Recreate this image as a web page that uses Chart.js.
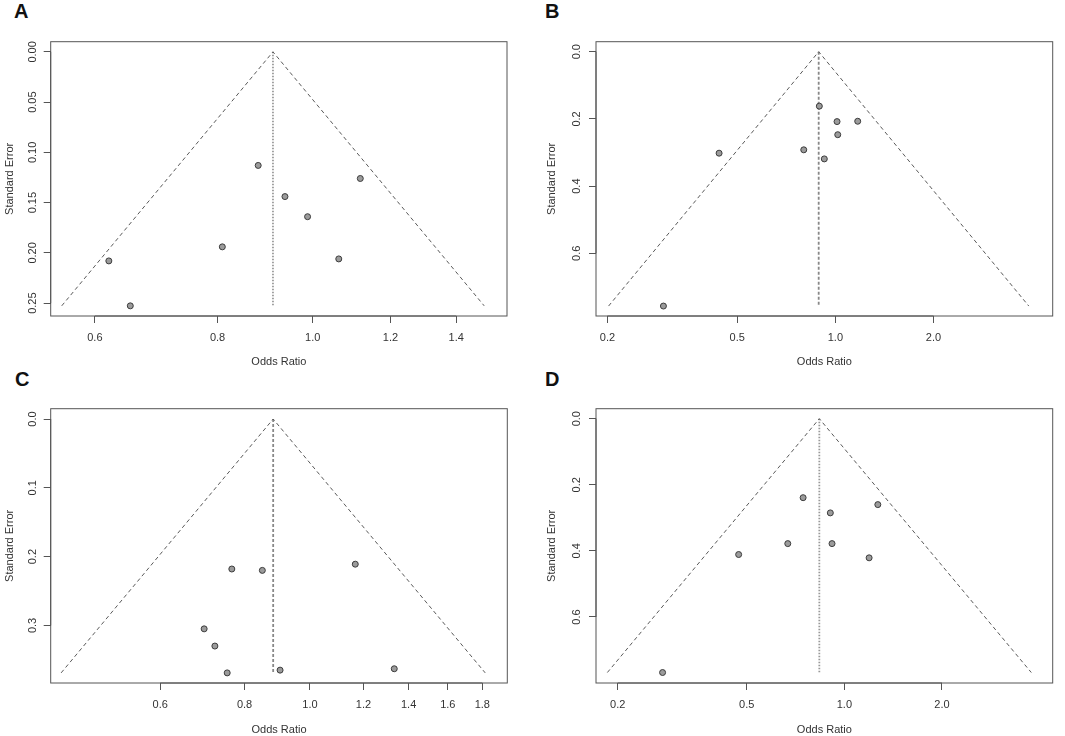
<!DOCTYPE html>
<html>
<head>
<meta charset="utf-8">
<script src="https://cdn.jsdelivr.net/npm/chart.js@4.4.1/dist/chart.umd.min.js"></script>
<style>
  body { margin: 0; background: #fff; }
  #wrap { position: relative; width: 1065px; height: 736px; font-family: "Liberation Sans", Arial, sans-serif; }
  canvas { position: absolute; }
  .tag { position: absolute; font-weight: bold; font-size: 20px; color: #111; line-height: 1; }
</style>
</head>
<body>
<div id="wrap">
  <div class="tag" style="left:14px;top:1px">A</div>
  <div class="tag" style="left:545px;top:1px">B</div>
  <div class="tag" style="left:15px;top:369px">C</div>
  <div class="tag" style="left:545px;top:369px">D</div>
  <canvas id="cA" width="532" height="368" style="left:0;top:0"></canvas>
  <canvas id="cB" width="533" height="368" style="left:532px;top:0"></canvas>
  <canvas id="cC" width="532" height="368" style="left:0;top:368px"></canvas>
  <canvas id="cD" width="533" height="368" style="left:532px;top:368px"></canvas>
</div>
<script>
// ---- data ----
const orA = [0.880, 1.118, 0.937, 0.988, 0.809, 0.620, 1.063, 0.652];
const seA = [0.113, 0.126, 0.144, 0.164, 0.194, 0.208, 0.206, 0.2527];
const centerA = 0.911;
const orTicksA = [0.6, 0.8, 1.0, 1.2, 1.4];
const seTicksA = [0, 0.05, 0.10, 0.15, 0.20, 0.25];

const orB = [0.893, 1.012, 1.171, 1.017, 0.800, 0.925, 0.440, 0.297];
const seB = [0.162, 0.208, 0.207, 0.247, 0.292, 0.319, 0.302, 0.757];
const centerB = 0.889;
const orTicksB = [0.2, 0.5, 1.0, 2.0];
const seTicksB = [0, 0.2, 0.4, 0.6];

const orC = [1.167, 0.766, 0.850, 0.697, 0.723, 0.754, 0.903, 1.333];
const seC = [0.211, 0.218, 0.220, 0.305, 0.330, 0.369, 0.365, 0.363];
const centerC = 0.882;
const orTicksC = [0.6, 0.8, 1.0, 1.2, 1.4, 1.6, 1.8];
const seTicksC = [0, 0.1, 0.2, 0.3];

const orD = [0.746, 1.268, 0.905, 0.669, 0.916, 0.472, 1.192, 0.275];
const seD = [0.239, 0.260, 0.285, 0.378, 0.378, 0.411, 0.421, 0.768];
const centerD = 0.837;
const orTicksD = [0.2, 0.5, 1.0, 2.0];
const seTicksD = [0, 0.2, 0.4, 0.6];

const Z = 1.96; // pseudo 95% region of the funnel

Chart.defaults.font.family = '"Liberation Sans", Arial, sans-serif';
Chart.defaults.font.size = 11;
Chart.defaults.color = '#333';

// box, rotated y labels, axis lines like base R
const rPlot = {
  id: 'rPlot',
  afterDraw(chart, args, opts) {
    const { ctx, chartArea: a, scales: { x, y } } = chart;
    ctx.save();
    ctx.strokeStyle = '#555';
    ctx.lineWidth = 1;
    ctx.strokeRect(a.left, a.top, a.right - a.left, a.bottom - a.top);
    // axis lines from first to last tick
    ctx.beginPath();
    ctx.moveTo(x.getPixelForValue(x.ticks[0].value), a.bottom);
    ctx.lineTo(x.getPixelForValue(x.ticks[x.ticks.length - 1].value), a.bottom);
    ctx.moveTo(a.left, y.getPixelForValue(y.ticks[0].value));
    ctx.lineTo(a.left, y.getPixelForValue(y.ticks[y.ticks.length - 1].value));
    ctx.stroke();
    ctx.fillStyle = '#333';
    ctx.font = '11px "Liberation Sans", Arial, sans-serif';
    ctx.textAlign = 'center';
    ctx.textBaseline = 'middle';
    y.ticks.forEach(t => {
      ctx.save();
      ctx.translate(a.left - opts.gap, y.getPixelForValue(t.value));
      ctx.rotate(-Math.PI / 2);
      ctx.fillText(t.value.toFixed(opts.digits), 0, 0);
      ctx.restore();
    });
    ctx.restore();
  }
};

function funnelPlot(id, or, se, center, orTicks, seTicks, p) {
  const seMax = Math.max(...se);
  const points = or.map((v, i) => ({ x: v, y: se[i] }));
  const funnel = [
    { x: center * Math.exp(-Z * seMax), y: seMax },
    { x: center, y: 0 },
    { x: center * Math.exp(Z * seMax), y: seMax }
  ];
  const refLine = [{ x: center, y: 0 }, { x: center, y: seMax }];
  const canvas = document.getElementById(id);

  return new Chart(canvas.getContext('2d'), {
    type: 'scatter',
    data: {
      datasets: [
        {
          data: points,
          pointRadius: 3,
          pointBackgroundColor: '#9b9b9b',
          pointBorderColor: '#3c3c3c',
          pointBorderWidth: 1
        },
        {
          data: funnel,
          showLine: true,
          borderColor: '#5a5a5a',
          borderWidth: 1,
          borderDash: [4, 3],
          pointRadius: 0
        },
        {
          data: refLine,
          showLine: true,
          borderColor: p.refColor,
          borderWidth: 1.8,
          borderDash: p.refDash,
          pointRadius: 0
        }
      ]
    },
    options: {
      responsive: false,
      animation: false,
      devicePixelRatio: 1,
      layout: { padding: { left: 0, top: p.top, right: canvas.width - p.right, bottom: 0 } },
      plugins: {
        legend: { display: false },
        tooltip: { enabled: false },
        rPlot: { gap: p.gap, digits: p.digits }
      },
      scales: {
        x: {
          type: 'logarithmic',
          min: p.xmin,
          max: p.xmax,
          afterBuildTicks: s => { s.ticks = orTicks.map(v => ({ value: v })); },
          afterFit: s => { s.height = canvas.height - p.bottom; },
          ticks: { autoSkip: false, maxRotation: 0, padding: 8, callback: v => Number(v).toFixed(1) },
          grid: { drawOnChartArea: false, color: '#555', tickLength: 7 },
          border: { display: false },
          title: { display: true, text: 'Odds Ratio', font: { size: 11, lineHeight: 1 }, padding: { top: 0, bottom: 0.5 } }
        },
        y: {
          type: 'linear',
          reverse: true,
          min: p.ymin,
          max: p.ymax,
          afterBuildTicks: s => { s.ticks = seTicks.map(v => ({ value: v })); },
          afterFit: s => { s.width = p.left; },
          ticks: { display: false },
          grid: { drawOnChartArea: false, color: '#555', tickLength: 7 },
          border: { display: false },
          title: { display: true, text: 'Standard Error', font: { size: 11, lineHeight: 1 }, padding: { top: p.titleGap, bottom: 0 } }
        }
      }
    },
    plugins: [rPlot]
  });
}

funnelPlot('cA', orA, seA, centerA, orTicksA, seTicksA, {
  left: 50.7, right: 507, top: 41.7, bottom: 316,
  xmin: 0.541, xmax: 1.577, ymin: -0.0101, ymax: 0.2628,
  gap: 18, digits: 2, titleGap: 4.5, refColor: '#999', refDash: [1.5, 1.5]
});
funnelPlot('cB', orB, seB, centerB, orTicksB, seTicksB, {
  left: 64, right: 520.7, top: 41.7, bottom: 316,
  xmin: 0.1845, xmax: 4.64, ymin: -0.0298, ymax: 0.7866,
  gap: 19, digits: 1, titleGap: 14, refColor: '#888', refDash: [3, 2]
});
funnelPlot('cC', orC, seC, centerC, orTicksC, seTicksC, {
  left: 50.7, right: 507.3, top: 40.7, bottom: 315,
  xmin: 0.413, xmax: 1.960, ymin: -0.015, ymax: 0.3837,
  gap: 18, digits: 1, titleGap: 4.5, refColor: '#888', refDash: [3, 2]
});
funnelPlot('cD', orD, seD, centerD, orTicksD, seTicksD, {
  left: 64, right: 520.7, top: 40.7, bottom: 315,
  xmin: 0.1714, xmax: 4.39, ymin: -0.0302, ymax: 0.7997,
  gap: 19, digits: 1, titleGap: 14, refColor: '#999', refDash: [1.5, 1.5]
});
</script>
</body>
</html>
